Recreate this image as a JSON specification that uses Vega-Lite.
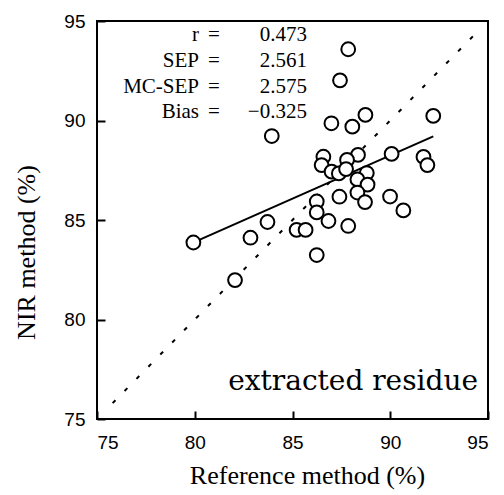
{
  "$schema": "https://vega.github.io/schema/vega-lite/v6.json",
  "autosize": "none",
  "width": 391,
  "height": 398,
  "padding": {"left": 97, "top": 21, "right": 16, "bottom": 76},
  "background": "white",
  "config": {
    "view": {"stroke": "black", "strokeWidth": 2},
    "axis": {
      "grid": false,
      "domain": false,
      "tickColor": "black",
      "tickWidth": 2,
      "tickSize": -8,
      "labelFont": "Liberation Sans",
      "labelFontSize": 19,
      "labelColor": "black",
      "titleFont": "Liberation Serif",
      "titleFontSize": 26,
      "titleFontWeight": "normal",
      "titleColor": "black"
    }
  },
  "datasets": {
    "points": [
      {"ref": 87.85, "nir": 93.58},
      {"ref": 87.43, "nir": 92.02},
      {"ref": 86.99, "nir": 89.86},
      {"ref": 88.06, "nir": 89.69},
      {"ref": 88.73, "nir": 90.28},
      {"ref": 92.20, "nir": 90.23},
      {"ref": 83.94, "nir": 89.22},
      {"ref": 86.58, "nir": 88.18},
      {"ref": 86.49, "nir": 87.76},
      {"ref": 88.35, "nir": 88.27},
      {"ref": 87.79, "nir": 88.02},
      {"ref": 90.07, "nir": 88.32},
      {"ref": 91.70, "nir": 88.17},
      {"ref": 91.90, "nir": 87.76},
      {"ref": 87.00, "nir": 87.43},
      {"ref": 87.37, "nir": 87.34},
      {"ref": 87.74, "nir": 87.56},
      {"ref": 88.80, "nir": 87.36},
      {"ref": 88.32, "nir": 87.04},
      {"ref": 88.84, "nir": 86.78},
      {"ref": 88.32, "nir": 86.38},
      {"ref": 87.40, "nir": 86.17},
      {"ref": 88.71, "nir": 85.90},
      {"ref": 89.99, "nir": 86.18},
      {"ref": 90.67, "nir": 85.48},
      {"ref": 86.24, "nir": 85.93},
      {"ref": 86.24, "nir": 85.38},
      {"ref": 86.84, "nir": 84.95},
      {"ref": 87.85, "nir": 84.70},
      {"ref": 85.21, "nir": 84.50},
      {"ref": 85.67, "nir": 84.50},
      {"ref": 86.24, "nir": 83.24},
      {"ref": 79.93, "nir": 83.87},
      {"ref": 82.85, "nir": 84.11},
      {"ref": 83.72, "nir": 84.90},
      {"ref": 82.06, "nir": 81.98}
    ],
    "fit": [
      {"ref": 80.0, "nir": 83.9},
      {"ref": 92.2, "nir": 89.2}
    ],
    "diag": [
      {"ref": 75.8, "nir": 75.8},
      {"ref": 94.5, "nir": 94.5}
    ],
    "stats": [
      {"lx": 80.22, "ex": 80.98, "vx": 85.74, "y": 93.99, "label": "r", "eq": "=", "value": "0.473"},
      {"lx": 80.22, "ex": 80.98, "vx": 85.74, "y": 92.69, "label": "SEP", "eq": "=", "value": "2.561"},
      {"lx": 80.22, "ex": 80.98, "vx": 85.74, "y": 91.38, "label": "MC-SEP", "eq": "=", "value": "2.575"},
      {"lx": 80.22, "ex": 80.98, "vx": 85.74, "y": 90.13, "label": "Bias", "eq": "=", "value": "−0.325"}
    ],
    "note": [
      {"x": 94.49, "y": 76.85, "text": "extracted residue"}
    ]
  },
  "layer": [
    {
      "data": {"name": "diag"},
      "mark": {"type": "line", "color": "black", "strokeWidth": 2, "strokeDash": [4, 13]},
      "encoding": {
        "x": {"field": "ref", "type": "quantitative", "scale": {"domain": [75, 95], "nice": false, "zero": false},
              "axis": {"values": [75, 80, 85, 90, 95], "title": "Reference method (%)", "labelPadding": 22, "titlePadding": 10, "titleX": 210}},
        "y": {"field": "nir", "type": "quantitative", "scale": {"domain": [75, 95], "nice": false, "zero": false},
              "axis": {"values": [75, 80, 85, 90, 95], "title": "NIR method (%)", "labelPadding": 20, "titleX": -58, "titleY": 231}}
      }
    },
    {
      "data": {"name": "fit"},
      "mark": {"type": "line", "color": "black", "strokeWidth": 2},
      "encoding": {
        "x": {"field": "ref", "type": "quantitative"},
        "y": {"field": "nir", "type": "quantitative"}
      }
    },
    {
      "data": {"name": "points"},
      "mark": {"type": "point", "shape": "circle", "filled": false, "fill": "white", "fillOpacity": 1, "stroke": "black", "strokeWidth": 2, "size": 190, "opacity": 1},
      "encoding": {
        "x": {"field": "ref", "type": "quantitative"},
        "y": {"field": "nir", "type": "quantitative"}
      }
    },
    {
      "data": {"name": "stats"},
      "mark": {"type": "text", "align": "right", "baseline": "alphabetic", "font": "Liberation Serif", "fontSize": 21, "color": "black"},
      "encoding": {
        "x": {"field": "lx", "type": "quantitative"},
        "y": {"field": "y", "type": "quantitative"},
        "text": {"field": "label"}
      }
    },
    {
      "data": {"name": "stats"},
      "mark": {"type": "text", "align": "center", "baseline": "alphabetic", "font": "Liberation Serif", "fontSize": 21, "color": "black"},
      "encoding": {
        "x": {"field": "ex", "type": "quantitative"},
        "y": {"field": "y", "type": "quantitative"},
        "text": {"field": "eq"}
      }
    },
    {
      "data": {"name": "stats"},
      "mark": {"type": "text", "align": "right", "baseline": "alphabetic", "font": "Liberation Serif", "fontSize": 21, "color": "black"},
      "encoding": {
        "x": {"field": "vx", "type": "quantitative"},
        "y": {"field": "y", "type": "quantitative"},
        "text": {"field": "value"}
      }
    },
    {
      "data": {"name": "note"},
      "mark": {"type": "text", "align": "right", "baseline": "middle", "font": "DejaVu Serif", "fontSize": 28, "color": "black"},
      "encoding": {
        "x": {"field": "x", "type": "quantitative"},
        "y": {"field": "y", "type": "quantitative"},
        "text": {"field": "text"}
      }
    }
  ]
}
